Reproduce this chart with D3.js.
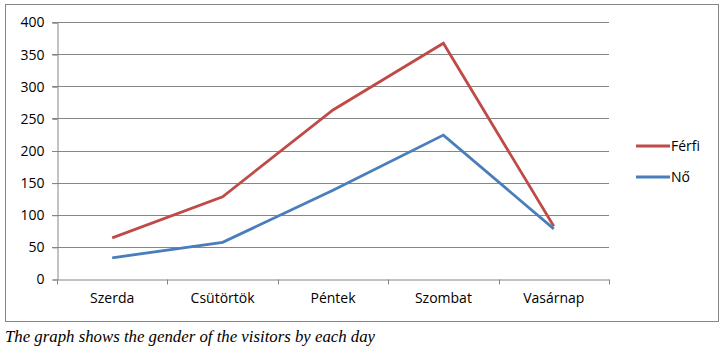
<!DOCTYPE html>
<html>
<head>
<meta charset="utf-8">
<script src="https://cdn.jsdelivr.net/npm/d3@7"></script>
<style>
  body { margin: 0; background: #fff; }
  .axis text { font-family: "Open Sans", sans-serif; font-size: 14px; fill: #000; }
  .grid line { stroke: #868686; }
</style>
</head>
<body>
<script>
const days = ["Szerda", "Csütörtök", "Péntek", "Szombat", "Vasárnap"];
const ferfiValues = [64, 128, 263, 367, 82];
const noValues = [33, 57, 138, 224, 78];
const seriesNames = ["Férfi", "Nő"];
const yTicks = [0, 50, 100, 150, 200, 250, 300, 350, 400];
const caption = "The graph shows the gender of the visitors by each day";

const WIDTH = 724, HEIGHT = 353;
const PLOT_LEFT = 57, PLOT_RIGHT = 609, PLOT_TOP = 22, PLOT_BOTTOM = 279;

var translate = function(x, y) {
    return "translate(" + x + "," + y + ")";
};

var svg = d3.select("body").append("svg")
    .attr("width", WIDTH)
    .attr("height", HEIGHT);

// frame round the chart
svg.append("rect")
    .attr("x", 5.5).attr("y", 4.5)
    .attr("width", 713).attr("height", 317)
    .attr("fill", "none")
    .attr("stroke", "#868686");

var xScale = d3.scaleBand()
    .domain(days)
    .range([PLOT_LEFT, PLOT_RIGHT]);

var yScale = d3.scaleLinear()
    .domain([0, 400])
    .range([PLOT_BOTTOM, PLOT_TOP]);

// horizontal gridlines
svg.append("g").attr("class", "grid")
    .selectAll("line").data(yTicks.slice(1)).enter()
    .append("line")
    .attr("x1", PLOT_LEFT - 5).attr("x2", PLOT_RIGHT)
    .attr("y1", d => Math.round(yScale(d)) + 0.5)
    .attr("y2", d => Math.round(yScale(d)) + 0.5);

// y axis
var yAxis = d3.axisLeft(yScale).tickValues(yTicks).tickSize(5).tickPadding(8);
var gy = svg.append("g").attr("class", "axis")
    .attr("transform", translate(PLOT_LEFT + 0.5, 0.5))
    .call(yAxis);
gy.select(".domain").attr("stroke", "#868686");
gy.selectAll(".tick line").attr("stroke", "#868686");

// x axis
var xAxis = d3.axisBottom(xScale).tickSize(0).tickPadding(14);
var gx = svg.append("g").attr("class", "axis")
    .attr("transform", translate(0, PLOT_BOTTOM + 0.5))
    .call(xAxis);
gx.select(".domain").attr("stroke", "#868686");
// category separator ticks
gx.selectAll(".sep").data(days.concat([null])).enter()
    .append("line")
    .attr("class", "sep")
    .attr("x1", (d, i) => Math.round(i < days.length ? xScale(d) : PLOT_RIGHT) + 0.5)
    .attr("x2", (d, i) => Math.round(i < days.length ? xScale(d) : PLOT_RIGHT) + 0.5)
    .attr("y1", 0).attr("y2", 5)
    .attr("stroke", "#868686");

var series = [
    {name: seriesNames[0], values: ferfiValues, color: "#BE4B48"},
    {name: seriesNames[1], values: noValues, color: "#4A7EBB"}
];

var line = d3.line()
    .x((d, i) => xScale(days[i]) + xScale.bandwidth() / 2)
    .y(d => yScale(d));

svg.selectAll(".series").data(series).enter()
    .append("path")
    .attr("class", "series")
    .attr("d", d => line(d.values))
    .attr("fill", "none")
    .attr("stroke", d => d.color)
    .attr("stroke-width", 2.8)
    .attr("stroke-linejoin", "miter");

// legend
var legend = svg.selectAll(".legend").data(series).enter()
    .append("g")
    .attr("class", "legend")
    .attr("transform", (d, i) => translate(636, 146 + i * 31));
legend.append("line")
    .attr("x1", 0).attr("x2", 34)
    .attr("stroke", d => d.color)
    .attr("stroke-width", 2.8);
legend.append("text")
    .attr("x", 35).attr("y", 5)
    .attr("font-family", "Open Sans, sans-serif")
    .attr("font-size", 14)
    .text(d => d.name);

// caption under the frame
svg.append("text")
    .attr("x", 5).attr("y", 342)
    .attr("font-family", "Liberation Serif, serif")
    .attr("font-style", "italic")
    .attr("font-size", 16.8)
    .text(caption);
</script>
</body>
</html>
